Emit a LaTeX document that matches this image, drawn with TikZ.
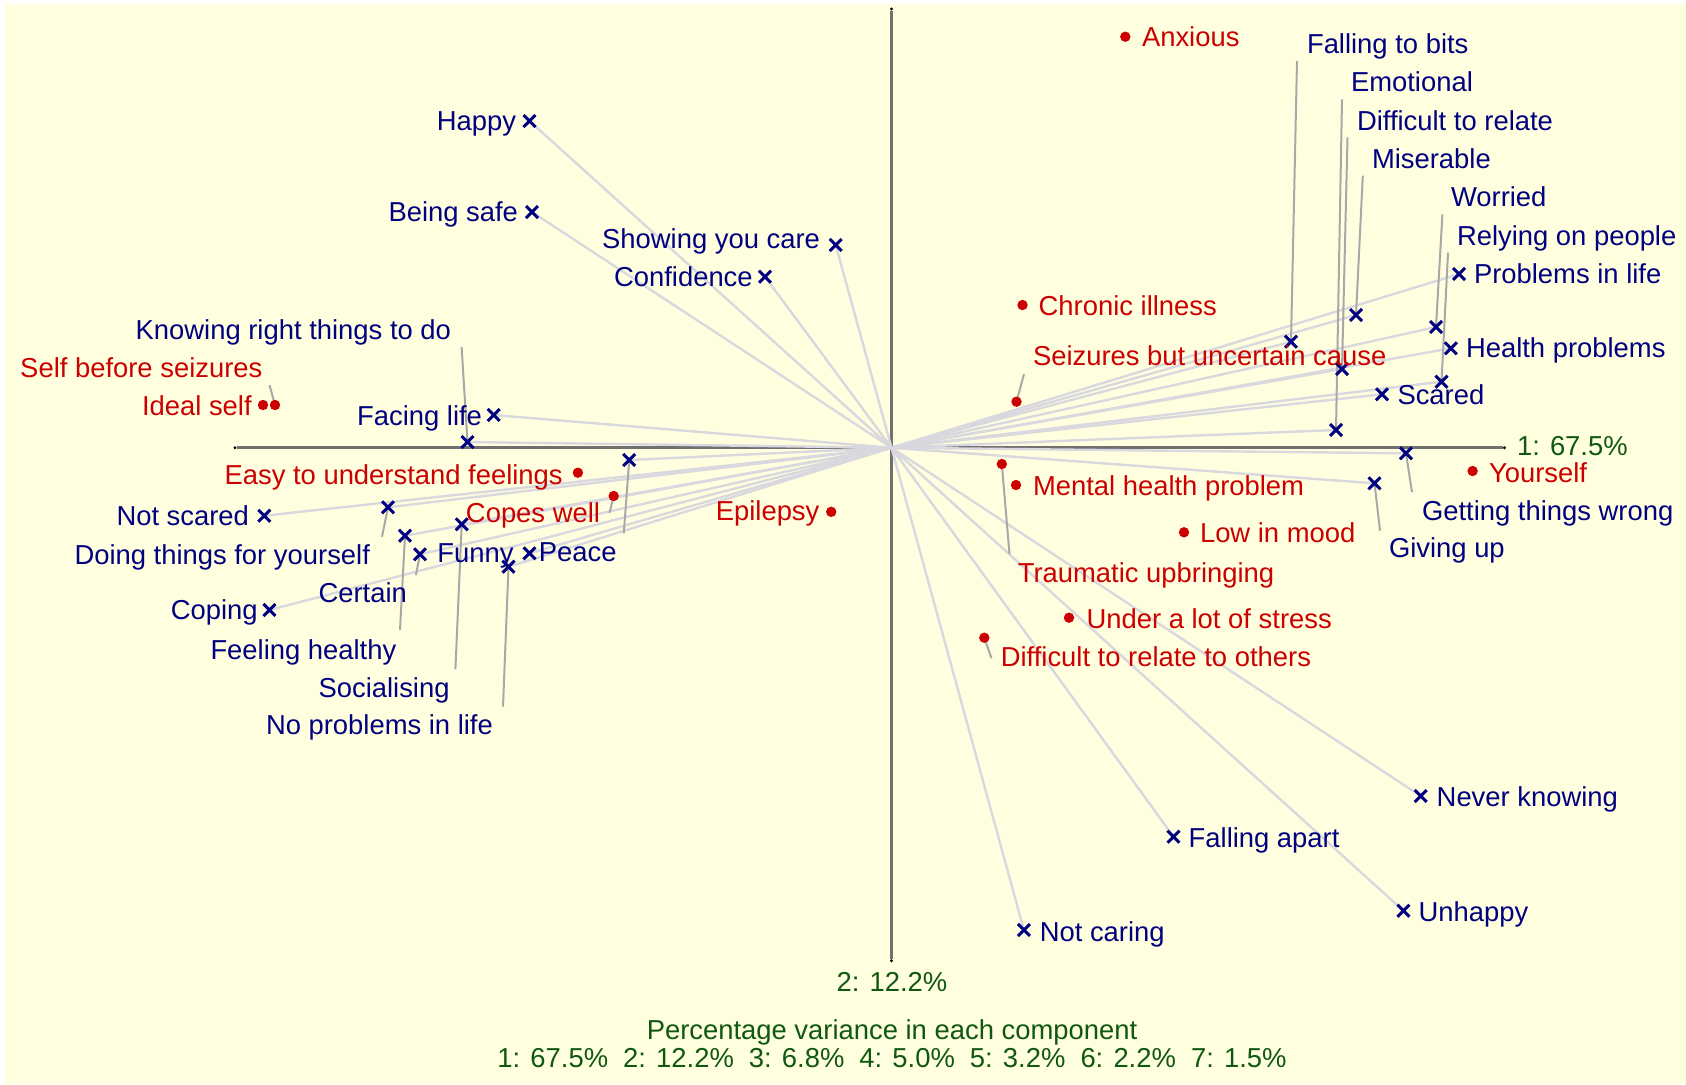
\documentclass[tikz,border=0pt]{standalone}
\usepackage{fontspec}
\setmainfont{Liberation Sans}
\usetikzlibrary{shapes.misc}
\definecolor{cnavy}{RGB}{0,0,128}
\definecolor{ered}{RGB}{204,0,0}
\definecolor{pgreen}{RGB}{16,88,16}
\definecolor{paper}{RGB}{255,255,224}
\definecolor{raygray}{RGB}{216,216,222}
\definecolor{leadgray}{RGB}{168,168,168}
\definecolor{axisgray}{RGB}{112,112,112}
\begin{document}
\begin{tikzpicture}[x=0.5pt,y=-0.5pt,
  txt/.style={inner sep=0pt,outer sep=0pt,yshift=-2pt,font=\fontsize{13.7pt}{16pt}\selectfont},
  clab/.style={txt,text=cnavy},
  elab/.style={txt,text=ered},
  axlab/.style={txt,text=pgreen},
  cmark/.style={cross out,draw=cnavy,line width=1.5pt,minimum size=6pt,inner sep=0pt,outer sep=0pt},
  emark/.style={circle,fill=ered,minimum size=5.2pt,inner sep=0pt,outer sep=0pt},
  ray/.style={draw=raygray,line width=1.2pt},
  leader/.style={draw=leadgray,line width=1pt},
  axisline/.style={draw=axisgray,line width=1.25pt},
  enddot/.style={circle,fill=black,minimum size=1.6pt,inner sep=0pt}]
% page and plotting area
\fill[white] (0,0) rectangle (1686,1084);
\fill[paper] (5,4) rectangle (1686,1084);
\useasboundingbox (0,0) rectangle (1686,1084);

% axes
\coordinate (O) at (891.5,447.7);
\node[enddot] (axL) at (235,447.7) {};
\node[enddot] (axR) at (1504.5,447.7) {};
\node[enddot] (axT) at (891.5,9) {};
\node[enddot] (axB) at (891.5,960.7) {};
\draw[axisline] (axL) -- (axR);
\draw[axisline] (axT) -- (axB);

% construct positions
\coordinate (happy) at (529.5,121);
\coordinate (safe) at (532,212);
\coordinate (care) at (835.7,245);
\coordinate (conf) at (765,276.7);
\coordinate (facing) at (493.7,415);
\coordinate (knowing) at (467.5,442);
\coordinate (notscared) at (264.3,515.7);
\coordinate (doing) at (388,507.3);
\coordinate (feeling) at (405,535.7);
\coordinate (certain) at (420,554.3);
\coordinate (funny) at (529.5,553.3);
\coordinate (social) at (461.7,524.3);
\coordinate (noprob) at (508.5,566.7);
\coordinate (peace) at (629.2,460);
\coordinate (coping) at (269.4,610);
\coordinate (fbits) at (1291,341.7);
\coordinate (emot) at (1336,430);
\coordinate (diffrel) at (1342,369);
\coordinate (miser) at (1356,315);
\coordinate (worried) at (1436,327);
\coordinate (relying) at (1441.5,381.7);
\coordinate (problife) at (1459,274);
\coordinate (health) at (1450.8,348.3);
\coordinate (scared) at (1382,394.3);
\coordinate (wrong) at (1406,453.3);
\coordinate (givingup) at (1374.5,483.3);
\coordinate (never) at (1420.7,796);
\coordinate (fapart) at (1173.5,836.7);
\coordinate (unhappy) at (1403.4,910.7);
\coordinate (notcaring) at (1023.9,930);

% construct vectors from the origin
\foreach \c in {happy,safe,care,conf,facing,knowing,notscared,doing,feeling,certain,funny,social,noprob,peace,coping,fbits,emot,diffrel,miser,worried,relying,problife,health,scared,wrong,givingup,never,fapart,unhappy,notcaring}
  \draw[ray] (O) -- (\c);

% leader end points
\coordinate (knowingL) at (461.6,347);
\coordinate (doingL) at (382,536.7);
\coordinate (feelingL) at (400,630);
\coordinate (certainL) at (415.9,575);
\coordinate (socialL) at (455.4,669.3);
\coordinate (noprobL) at (503,706.7);
\coordinate (peaceL) at (623.8,533.3);
\coordinate (fbitsL) at (1297,61);
\coordinate (emotL) at (1342,99.3);
\coordinate (diffrelL) at (1347.5,137.3);
\coordinate (miserL) at (1362.8,175.7);
\coordinate (worriedL) at (1442.4,214.3);
\coordinate (relyingL) at (1448,252.7);
\coordinate (wrongL) at (1412,492.3);
\coordinate (givingupL) at (1380,530.7);

% element positions
\coordinate (anxious) at (1125.3,36.7);
\coordinate (chronic) at (1022.5,305);
\coordinate (seizures) at (1016.5,401.7);
\coordinate (selfbefore) at (275,405);
\coordinate (ideal) at (263,405);
\coordinate (easy) at (577.9,472.7);
\coordinate (copes) at (613.7,496);
\coordinate (epilepsy) at (831.2,511.8);
\coordinate (yourself) at (1472.6,471);
\coordinate (mental) at (1016,485);
\coordinate (trauma) at (1001.8,464);
\coordinate (lowmood) at (1184,532.3);
\coordinate (stress) at (1069,617.7);
\coordinate (diffothers) at (984.3,637.7);

\coordinate (seizuresL) at (1024,374);
\coordinate (selfbeforeL) at (269.5,385);
\coordinate (copesL) at (609.5,512.7);
\coordinate (traumaL) at (1009.5,554);
\coordinate (diffothersL) at (991.5,658.3);

% leader lines
\foreach \c in {knowing,doing,feeling,certain,social,noprob,peace,fbits,emot,diffrel,miser,worried,relying,wrong,givingup,seizures,selfbefore,copes,trauma,diffothers}
  \draw[leader] (\c) -- (\c L);

% markers
\foreach \c in {happy,safe,care,conf,facing,knowing,notscared,doing,feeling,certain,funny,social,noprob,peace,coping,fbits,emot,diffrel,miser,worried,relying,problife,health,scared,wrong,givingup,never,fapart,unhappy,notcaring}
  \node[cmark] (\c X) at (\c) {};
\foreach \e in {anxious,chronic,seizures,selfbefore,ideal,easy,copes,epilepsy,yourself,mental,trauma,lowmood,stress,diffothers}
  \node[emark] (\e D) at (\e) {};

% construct labels
\node[clab,anchor=mid east] (happyT) at (516,121) {Happy};
\node[clab,anchor=mid east] (safeT) at (518,212) {Being safe};
\node[clab,anchor=mid east] (careT) at (820,239.3) {Showing you care};
\node[clab,anchor=mid east] (confT) at (752.7,277.3) {Confidence};
\node[clab,anchor=mid east] (facingT) at (482,416.7) {Facing life};
\node[clab,anchor=mid west] (knowingT) at (135.7,330) {Knowing right things to do};
\node[clab,anchor=mid east] (notscaredT) at (249,516.7) {Not scared};
\node[clab,anchor=mid west] (doingT) at (74.5,555) {Doing things for yourself};
\node[clab,anchor=mid west] (feelingT) at (210.5,650) {Feeling healthy};
\node[clab,anchor=mid west] (certainT) at (318.6,592.7) {Certain};
\node[clab,anchor=mid east] (funnyT) at (513.5,553.3) {Funny};
\node[clab,anchor=mid west] (socialT) at (318.6,687.7) {Socialising};
\node[clab,anchor=mid west] (noprobT) at (266,725) {No problems in life};
\node[clab,anchor=mid west] (peaceT) at (538.8,552.5) {Peace};
\node[clab,anchor=mid east] (copingT) at (257.6,610) {Coping};
\node[clab,anchor=mid west] (fbitsT) at (1307,44.3) {Falling to bits};
\node[clab,anchor=mid west] (emotT) at (1351,82) {Emotional};
\node[clab,anchor=mid west] (diffrelT) at (1357,121) {Difficult to relate};
\node[clab,anchor=mid west] (miserT) at (1372,159.3) {Miserable};
\node[clab,anchor=mid west] (worriedT) at (1451,197.7) {Worried};
\node[clab,anchor=mid west] (relyingT) at (1457,236.7) {Relying on people};
\node[clab,anchor=mid west] (problifeT) at (1474,274) {Problems in life};
\node[clab,anchor=mid west] (healthT) at (1466,348.3) {Health problems};
\node[clab,anchor=mid west] (scaredT) at (1397.5,395) {Scared};
\node[clab,anchor=mid west] (wrongT) at (1422,511) {Getting things wrong};
\node[clab,anchor=mid west] (givingupT) at (1389,548.3) {Giving up};
\node[clab,anchor=mid west] (neverT) at (1436.7,796.7) {Never knowing};
\node[clab,anchor=mid west] (fapartT) at (1188.7,838.3) {Falling apart};
\node[clab,anchor=mid west] (unhappyT) at (1418.6,911.7) {Unhappy};
\node[clab,anchor=mid west] (notcaringT) at (1039.8,931.7) {Not caring};

% element labels
\node[elab,anchor=mid west] (anxiousT) at (1142,37.7) {Anxious};
\node[elab,anchor=mid west] (chronicT) at (1038.7,306.7) {Chronic illness};
\node[elab,anchor=mid west] (seizuresT) at (1033,356) {Seizures but uncertain cause};
\node[elab,anchor=mid east] (selfbeforeT) at (262.4,368.3) {Self before seizures};
\node[elab,anchor=mid east] (idealT) at (251.7,406.7) {Ideal self};
\node[elab,anchor=mid east] (easyT) at (562.7,475) {Easy to understand feelings};
\node[elab,anchor=mid east] (copesT) at (600,513.3) {Copes well};
\node[elab,anchor=mid east] (epilepsyT) at (819.4,511) {Epilepsy};
\node[elab,anchor=mid west] (yourselfT) at (1489,473.5) {Yourself};
\node[elab,anchor=mid west] (mentalT) at (1033,486) {Mental health problem};
\node[elab,anchor=mid west] (traumaT) at (1017.8,572.7) {Traumatic upbringing};
\node[elab,anchor=mid west] (lowmoodT) at (1200,533.3) {Low in mood};
\node[elab,anchor=mid west] (stressT) at (1086.6,619.3) {Under a lot of stress};
\node[elab,anchor=mid west] (diffothersT) at (1000.8,657.3) {Difficult to relate to others};

% axis and variance labels
\node[axlab,anchor=mid west] (ax1T) at (1517,446) {1: 67.5\%};
\node[axlab,anchor=mid] (ax2T) at (892,981.7) {2: 12.2\%};
\node[axlab,anchor=mid] (varT) at (892,1030) {Percentage variance in each component};
\node[axlab,anchor=mid] (varV) at (892,1058.3) {1: 67.5\%\hspace{0.55em}2: 12.2\%\hspace{0.55em}3: 6.8\%\hspace{0.55em}4: 5.0\%\hspace{0.55em}5: 3.2\%\hspace{0.55em}6: 2.2\%\hspace{0.55em}7: 1.5\%};
\end{tikzpicture}
\end{document}
